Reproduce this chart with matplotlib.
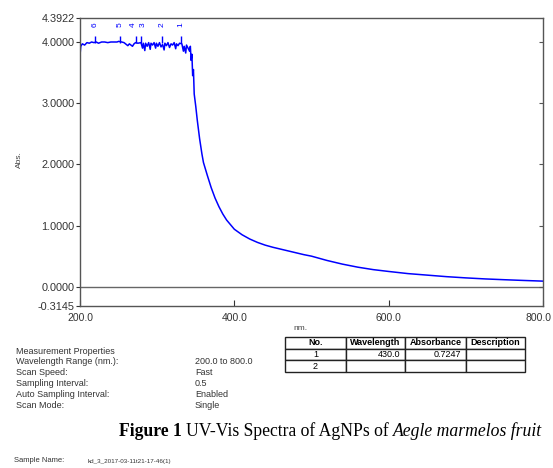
import matplotlib
matplotlib.use("Agg")
import matplotlib.pyplot as plt
import matplotlib.transforms as mtransforms

# spectrum (nm, Abs)
wavelength = [200, 201, 203, 206, 209, 212, 215, 218, 221, 224, 228, 232, 236, 240, 244,
              248, 250, 254, 257, 260, 262, 264, 266, 268, 270, 272, 275, 279, 281, 282,
              284, 285, 287, 289, 291, 292, 294, 296, 298, 299, 301, 303, 305, 307, 309,
              310, 312, 314, 316, 318, 320, 322, 324, 325, 327, 329, 332, 334, 335, 337,
              338, 340, 342, 343, 344, 345, 346, 347, 348, 350, 352, 355, 358, 360, 365,
              370, 375, 380, 385, 390, 400, 410, 420, 430, 440, 450, 460, 470, 480, 490, 500,
              520, 540, 560, 580, 600, 625, 650, 675, 700, 725, 750, 775, 800]
absorbance = [3.78, 3.93, 3.97, 3.95, 3.99, 3.98, 4.00, 3.99, 4.00, 3.98, 4.00, 4.00, 3.99, 4.00, 4.00,
              4.00, 4.01, 4.00, 3.99, 3.96, 3.94, 3.97, 3.95, 3.93, 3.97, 3.99, 3.98, 3.99, 3.90, 3.98,
              3.86, 3.98, 3.93, 3.99, 3.88, 3.98, 3.95, 3.99, 3.90, 3.98, 3.93, 3.99, 3.92, 3.96, 3.87,
              3.98, 3.94, 3.99, 3.91, 3.97, 3.95, 3.99, 3.89, 3.97, 3.94, 3.98, 3.97, 3.85, 3.93, 3.82,
              3.95, 3.90, 3.85, 3.93, 3.70, 3.80, 3.45, 3.55, 3.15, 2.95, 2.72, 2.42, 2.17, 2.03, 1.82,
              1.62, 1.45, 1.31, 1.19, 1.09, 0.94, 0.85, 0.78, 0.7247, 0.68, 0.645, 0.615, 0.585, 0.555, 0.525, 0.50,
              0.43, 0.37, 0.32, 0.28, 0.25, 0.215, 0.19, 0.165, 0.145, 0.128, 0.115, 0.103, 0.092]

peak_wl = [331, 306, 278.5, 273, 252, 219.5]
peak_labels = ['1', '2', '3', '4', '5', '6']

y_ticks = [-0.3145, 0, 1, 2, 3, 4, 4.3922]
x_ticks = [200, 400, 600, 800]

prop_names = ['Wavelength Range (nm.):', 'Scan Speed:', 'Sampling Interval:',
              'Auto Sampling Interval:', 'Scan Mode:']
prop_values = ['200.0 to 800.0', 'Fast', '0.5', 'Enabled', 'Single']

table_cols = ['No.', 'Wavelength', 'Absorbance', 'Description']
table_rows = [['1', '430.0', '0.7247', ''], ['2', '', '', '']]

plt.rcParams['font.family'] = ['Liberation Sans', 'DejaVu Sans']

W, H = 553, 468
fig = plt.figure(figsize=(W / 100, H / 100), dpi=100)

def fx(px):
    return px / W

def fy(py):
    return 1 - py / H

ax = fig.add_axes([fx(80), fy(306), fx(543) - fx(80), fy(18) - fy(306)])
ax.plot(wavelength, absorbance, color='#0000ff', lw=1.1)
ax.vlines(peak_wl, 3.99, 4.09, color='#0000ff', lw=1)
# labels 3 and 4 sit almost on top of each other, nudge them apart a little
nudge = {'3': 2.2, '4': -2.2}
for w, lab in zip(peak_wl, peak_labels):
    ax.annotate(lab, (w, 4.28), xytext=(nudge.get(lab, 0), 0), textcoords='offset points',
                rotation=90, color='#0000ff', fontsize=6, ha='center', va='center')
ax.axhline(0, color='#666666', lw=1)

ax.set_xlim(200, 800)
ax.set_ylim(-0.3145, 4.3922)
ax.set_xticks(x_ticks)
ax.set_xticklabels(['%.1f' % v for v in x_ticks])
ax.set_yticks(y_ticks)
ax.set_yticklabels(['%.4f' % v for v in y_ticks])
ax.tick_params(axis='x', direction='in', length=4, labelsize=7.5, colors='#333333', pad=5)
ax.tick_params(axis='y', direction='out', length=3, labelsize=7.8, colors='#333333', pad=1)
for s in ax.spines.values():
    s.set_color('#555555')
    s.set_linewidth(1)

# keep the last x label inside the figure
last = ax.get_xticklabels()[-1]
last.set_transform(last.get_transform() + mtransforms.ScaledTranslation(-4 / 100, 0, fig.dpi_scale_trans))

# inner ticks on the right side
ax_r = ax.twinx()
ax_r.set_ylim(ax.get_ylim())
ax_r.set_yticks([0, 1, 2, 3, 4])
ax_r.tick_params(axis='y', direction='in', length=3, labelright=False, colors='#555555')
for s in ax_r.spines.values():
    s.set_visible(False)

fig.text(fx(19), fy(160), 'Abs.', rotation=90, fontsize=6, color='#444444',
         ha='center', va='center')
fig.text(fx(293), fy(328), 'nm.', fontsize=6, color='#444444', ha='left', va='center')

# measurement properties
fig.text(fx(16), fy(351), 'Measurement Properties', fontsize=6.5, color='#333333', va='center')
for i, (n, v) in enumerate(zip(prop_names, prop_values)):
    y = 362 + i * 10.8
    fig.text(fx(16), fy(y), n, fontsize=6.5, color='#333333', va='center')
    fig.text(fx(195), fy(y), v, fontsize=6.5, color='#333333', va='center')

# peak table
tax = fig.add_axes([fx(285), fy(372), fx(525) - fx(285), fy(337) - fy(372)])
tax.axis('off')
tbl = tax.table(cellText=table_rows, colLabels=table_cols, bbox=[0, 0, 1, 1],
                colWidths=[61, 59, 61, 59], cellLoc='center')
tbl.auto_set_font_size(False)
for (r, c), cell in tbl.get_celld().items():
    cell.set_linewidth(1)
    cell.set_edgecolor('#222222')
    cell.get_text().set_fontsize(6.5)
    if r == 0:
        cell.get_text().set_fontweight('bold')
    elif c in (1, 2):
        cell.get_text().set_ha('right')
        cell.PAD = 0.08

# caption with mixed styles
fig.canvas.draw()
r = fig.canvas.get_renderer()
x = fx(119)
for txt, w, st in [('Figure 1 ', 'bold', 'normal'),
                   ('UV-Vis Spectra of AgNPs of ', 'normal', 'normal'),
                   ('Aegle marmelos fruit', 'normal', 'italic')]:
    t = fig.text(x, fy(431), txt, fontsize=12.7, fontweight=w, fontstyle=st,
                 family='Liberation Serif', va='center', ha='left')
    x += t.get_window_extent(r).width / W

fig.text(fx(14), fy(461), 'Sample Name:', fontsize=5.5, color='#333333', va='center')
fig.text(fx(88), fy(461), 'kd_3_2017-03-11t21-17-46(1)', fontsize=4.5, color='#333333', va='center')

fig.savefig('out.png', dpi=100)
